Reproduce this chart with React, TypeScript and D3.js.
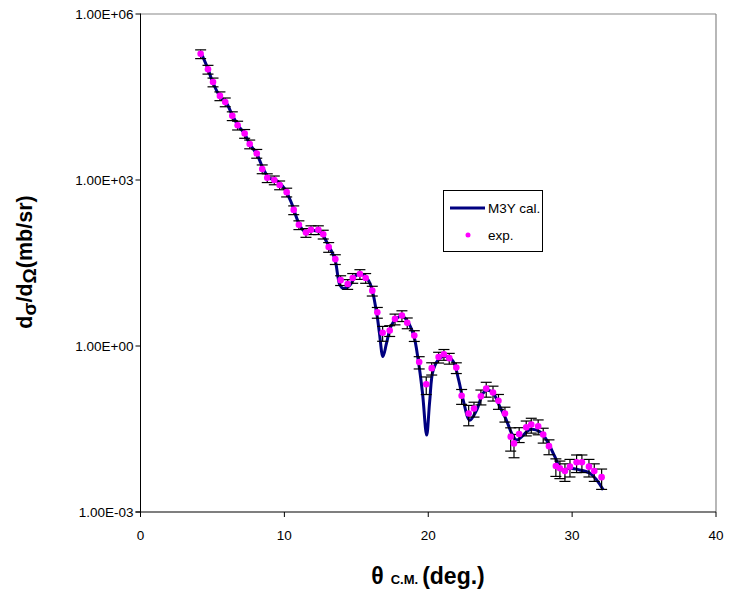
import React from "react";
import * as d3 from "d3";

// experimental data: theta (deg), log10 cross section (mb/sr), relative error
const expTheta = [4.18, 4.69, 5.04, 5.52, 5.89, 6.38, 6.75, 7.24, 7.59, 8.08, 8.46, 8.81, 9.30, 9.67, 10.16, 10.65, 11.01, 11.50, 11.85, 12.36, 12.70,
  13.08, 13.54, 13.91, 14.40, 14.75, 15.25, 15.65, 16.11, 16.46, 16.83, 17.32, 17.69, 18.17, 18.54, 19.03, 19.37, 19.86, 20.24, 20.72, 21.09, 21.46, 21.95,
  22.32, 22.81, 23.18, 23.66, 24.03, 24.50, 24.88, 25.33, 25.73, 25.96, 26.32, 26.81, 27.16, 27.64, 27.99, 28.39, 28.87, 29.15, 29.50, 29.85, 30.31, 30.68,
  31.17, 31.54, 32.05];
const expLog = [5.28, 5.00, 4.77, 4.52, 4.41, 4.16, 3.99, 3.84, 3.65, 3.48, 3.20, 3.04, 3.00, 2.91, 2.78, 2.46, 2.19, 2.05, 2.10, 2.10, 2.02,
  1.79, 1.57, 1.19, 1.12, 1.23, 1.30, 1.23, 1.00, 0.61, 0.24, 0.28, 0.49, 0.55, 0.42, 0.19, -0.29, -0.69, -0.40, -0.20, -0.15, -0.22, -0.39,
  -0.90, -1.22, -1.13, -0.91, -0.77, -0.84, -0.99, -1.22, -1.64, -1.76, -1.59, -1.47, -1.42, -1.45, -1.60, -1.81, -2.17, -2.21, -2.26, -2.18, -2.10, -2.10,
  -2.18, -2.26, -2.37];
const expErr = [0.18, 0.18, 0.18, 0.18, 0.18, 0.18, 0.18, 0.18, 0.18, 0.18, 0.18, 0.18, 0.18, 0.18, 0.18, 0.18, 0.18, 0.18, 0.18, 0.18, 0.18,
  0.2, 0.2, 0.2, 0.2, 0.2, 0.2, 0.2, 0.2, 0.22, 0.3, 0.22, 0.22, 0.22, 0.22, 0.22, 0.25, 0.35, 0.25, 0.22, 0.22, 0.22, 0.22,
  0.3, 0.4, 0.3, 0.3, 0.3, 0.3, 0.3, 0.3, 0.45, 0.45, 0.3, 0.3, 0.3, 0.3, 0.3, 0.3, 0.35, 0.35, 0.35, 0.35, 0.35, 0.35,
  0.35, 0.35, 0.4];

// M3Y calculation
const calTheta = [4.2, 4.7, 5.0, 5.5, 6.0, 6.4, 6.8, 7.2, 7.6, 8.1, 8.5, 8.8, 9.0, 9.5, 10.0, 10.5, 11.0, 11.4, 12.0, 12.5, 13.0, 13.5, 13.86, 14.1,
  14.56, 15.0, 15.5, 15.95, 16.4, 16.6, 16.85, 17.1, 17.4, 17.8, 18.2, 18.6, 19.0, 19.3, 19.6, 19.89, 20.1, 20.35, 20.81, 21.28, 21.74, 22.1, 22.43, 22.88,
  23.36, 23.82, 24.1, 24.5, 24.98, 25.4, 25.8, 26.14, 26.49, 27.07, 27.76, 28.23, 28.8, 29.27, 29.85, 30.54, 31.24, 31.7, 32.16];
const calLog = [5.30, 5.00, 4.78, 4.52, 4.38, 4.16, 3.98, 3.85, 3.65, 3.46, 3.22, 3.08, 3.03, 2.98, 2.85, 2.58, 2.22, 2.07, 2.09, 2.06, 1.85, 1.58, 1.10, 1.04,
  1.10, 1.28, 1.28, 1.13, 0.62, 0.25, -0.19, 0.05, 0.35, 0.50, 0.54, 0.43, 0.18, -0.25, -0.85, -1.61, -1.0, -0.43, -0.22, -0.19, -0.28, -0.60, -0.98, -1.34,
  -1.16, -0.85, -0.80, -0.85, -1.10, -1.32, -1.58, -1.70, -1.64, -1.51, -1.55, -1.70, -2.0, -2.24, -2.21, -2.24, -2.30, -2.42, -2.60];

const xTicks = [0, 10, 20, 30, 40];
const yTicks = [1e6, 1e3, 1e0, 1e-3];
const yTickLabels = ["1.00E+06", "1.00E+03", "1.00E+00", "1.00E-03"];

const W = 729, H = 593;
const L = 140.5, R = 716, T = 14, B = 512;
const FONT = "'Liberation Sans', Arial, Helvetica, sans-serif";

export default function App() {
  const x = d3.scaleLinear().domain([0, 40]).range([L, R]);
  const y = d3.scaleLog().domain([1e-3, 1e6]).range([B, T]);
  const calData = calTheta.map((t, i) => [t, Math.pow(10, calLog[i])] as [number, number]);
  const line = d3.line<[number, number]>()
    .x(d => x(d[0]))
    .y(d => y(d[1]))
    .curve(d3.curveCatmullRom.alpha(0.5));
  const capHalf = 5.5;
  return (
    <svg width={W} height={H} style={{ position: "absolute", left: 0, top: 0, background: "#fff" }} fontFamily={FONT}>
      <rect x={0} y={0} width={W} height={H} fill="#fff" />
      {/* plot frame */}
      <line x1={L} y1={T} x2={R} y2={T} stroke="#888" strokeWidth={1.2} />
      <line x1={R} y1={T} x2={R} y2={B} stroke="#888" strokeWidth={1.2} />
      <line x1={L} y1={T - 0.5} x2={L} y2={B} stroke="#000" strokeWidth={1} />
      <line x1={L - 5} y1={B} x2={R} y2={B} stroke="#000" strokeWidth={1.2} />
      {yTicks.map((v, i) => (
        <g key={"yt" + i}>
          <line x1={L - 5} x2={L} y1={y(v)} y2={y(v)} stroke="#000" />
          <text x={L - 7} y={y(v)} dy="0.35em" textAnchor="end" fontSize={13.5}>{yTickLabels[i]}</text>
        </g>
      ))}
      {xTicks.map((v, i) => (
        <g key={"xt" + i}>
          <line x1={x(v)} x2={x(v)} y1={B} y2={B + 5} stroke="#000" />
          <text x={x(v)} y={B + 23} dy="0.35em" textAnchor="middle" fontSize={13.5}>{v}</text>
        </g>
      ))}
      {/* curve */}
      <path d={line(calData) || ""} fill="none" stroke="#000080" strokeWidth={3} strokeLinejoin="round" />
      {/* error bars */}
      {expTheta.map((t, i) => {
        const v = Math.pow(10, expLog[i]);
        const cx = x(t);
        const yTop = y(v * (1 + expErr[i]));
        const yBot = y(v * (1 - expErr[i]));
        return (
          <g key={"e" + i} stroke="#000" strokeWidth={1.2}>
            <line x1={cx} x2={cx} y1={yTop} y2={yBot} />
            <line x1={cx - capHalf} x2={cx + capHalf} y1={yTop} y2={yTop} />
            <line x1={cx - capHalf} x2={cx + capHalf} y1={yBot} y2={yBot} />
          </g>
        );
      })}
      {expTheta.map((t, i) => (
        <circle key={"p" + i} cx={x(t)} cy={y(Math.pow(10, expLog[i]))} r={3.3} fill="#FF00FF" />
      ))}
      {/* legend */}
      <rect x={443.5} y={190.5} width={99} height={61} fill="#fff" stroke="#000" strokeWidth={1} />
      <line x1={450} x2={485} y1={208} y2={208} stroke="#000080" strokeWidth={3} />
      <text x={488} y={208} dy="0.35em" fontSize={13.5}>M3Y cal.</text>
      <circle cx={468} cy={235} r={2.5} fill="#FF00FF" />
      <text x={488} y={235} dy="0.35em" fontSize={13.5}>exp.</text>
      {/* axis titles */}
      <text transform="translate(32,262) rotate(-90)" textAnchor="middle" fontSize={21.5} fontWeight="bold">
        d<tspan fontSize={19} dy={4}>σ</tspan><tspan dy={-4}>/d</tspan><tspan fontSize={19} dy={4}>Ω</tspan><tspan dy={-4}>(mb/sr)</tspan>
      </text>
      <text x={428} y={584} textAnchor="middle" fontSize={23} fontWeight="bold">
        θ<tspan fontSize={13} dx={7}>C.M.</tspan><tspan dx={4}>(deg.)</tspan>
      </text>
    </svg>
  );
}
